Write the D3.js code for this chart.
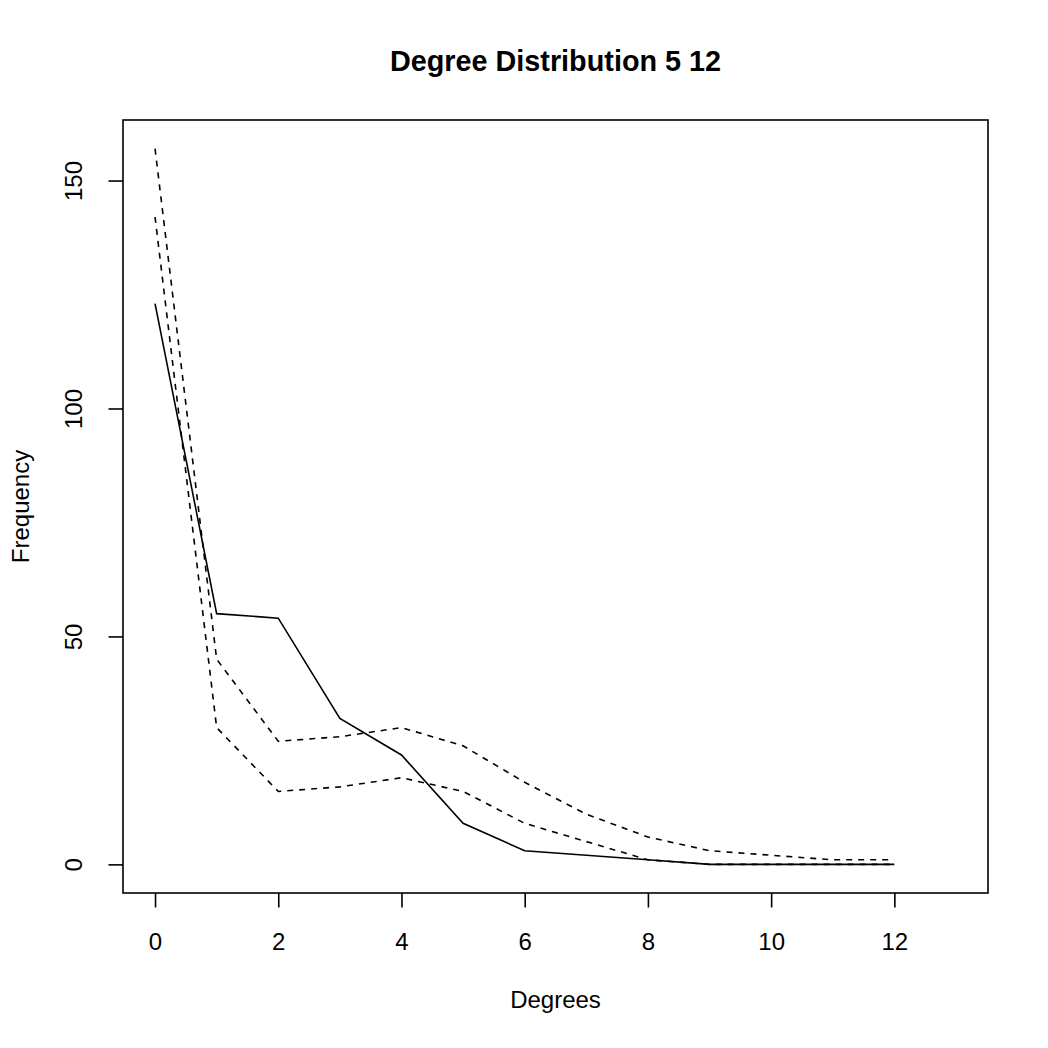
<!DOCTYPE html>
<html>
<head>
<meta charset="utf-8">
<script src="https://cdn.jsdelivr.net/npm/d3@7"></script>
<style>
  body { margin: 0; background: #fff; }
  svg text { font-family: "Liberation Sans", Arial, Helvetica, sans-serif; fill: #000; }
</style>
</head>
<body>
<div id="chart"></div>
<script>
'use strict';

// degree values along the x axis
const degrees = [0, 1, 2, 3, 4, 5, 6, 7, 8, 9, 10, 11, 12]

// observed frequencies (solid line)
const observed = [123, 55, 54, 32, 24, 9, 3, 2, 1, 0, 0, 0, 0]

// lower and upper envelopes (dashed lines)
const lowerBand = [142, 30, 16, 17, 19, 16, 9, 5, 1, 0, 0, 0, 0]
const upperBand = [157, 45, 27, 28, 30, 26, 18, 11, 6, 3, 2, 1, 1]

const xTicks = [0, 2, 4, 6, 8, 10, 12]
const yTicks = [0, 50, 100, 150]

const title  = 'Degree Distribution 5 12'
const xLabel = 'Degrees'
const yLabel = 'Frequency'

const W = 1048, H = 1048
const box = { left: 123, right: 988, top: 120, bottom: 893 }

// R style 4% padding on each side of the data range
const xDomain = [0, 13], yDomain = [0, 157]
const pad = (d) => { const e = (d[1] - d[0]) * 0.04; return [d[0] - e, d[1] + e] }

const x = d3.scaleLinear().domain(pad(xDomain)).range([box.left, box.right])
const y = d3.scaleLinear().domain(pad(yDomain)).range([box.bottom, box.top])

const svg = d3.select('#chart')
  .append('svg')
  .attr('width', W)
  .attr('height', H)

svg.append('rect')
  .attr('width', W)
  .attr('height', H)
  .attr('fill', '#fff')

const line = d3.line()
  .x((d) => x(d[0]))
  .y((d) => y(d[1]))

const series = [
  { values: upperBand, dash: '6,6' },
  { values: lowerBand, dash: '6,6' },
  { values: observed,  dash: null }
]

series.forEach((s) => {
  svg.append('path')
    .datum(degrees.map((d, i) => [d, s.values[i]]))
    .attr('d', line)
    .attr('fill', 'none')
    .attr('stroke', '#000')
    .attr('stroke-width', 1.6)
    .attr('stroke-dasharray', s.dash)
})

// plot frame
svg.append('rect')
  .attr('x', box.left)
  .attr('y', box.top)
  .attr('width', box.right - box.left)
  .attr('height', box.bottom - box.top)
  .attr('fill', 'none')
  .attr('stroke', '#000')
  .attr('stroke-width', 1.6)

const xAxis = svg.append('g')
  .attr('transform', `translate(0,${box.bottom})`)
  .call(d3.axisBottom(x).tickValues(xTicks).tickSize(14.5).tickSizeOuter(0))

xAxis.select('.domain').remove()
xAxis.selectAll('.tick line').attr('stroke', '#000').attr('stroke-width', 1.6)
xAxis.selectAll('.tick text')
  .attr('y', 57)
  .attr('dy', 0)
  .style('font-size', '24px')

const yAxis = svg.append('g')
  .attr('transform', `translate(${box.left},0)`)
  .call(d3.axisLeft(y).tickValues(yTicks).tickSize(14.5).tickSizeOuter(0))

yAxis.select('.domain').remove()
yAxis.selectAll('.tick line').attr('stroke', '#000').attr('stroke-width', 1.6)
yAxis.selectAll('.tick text')
  .attr('x', 0)
  .attr('dy', 0)
  .attr('text-anchor', 'middle')
  .attr('transform', 'translate(-41,0) rotate(-90)')
  .style('font-size', '24px')

svg.append('text')
  .attr('x', (box.left + box.right) / 2)
  .attr('y', 71)
  .attr('text-anchor', 'middle')
  .style('font-size', '28.8px')
  .style('font-weight', 'bold')
  .text(title)

svg.append('text')
  .attr('x', (box.left + box.right) / 2)
  .attr('y', 1008)
  .attr('text-anchor', 'middle')
  .style('font-size', '24px')
  .text(xLabel)

svg.append('text')
  .attr('transform', `translate(29,${(box.top + box.bottom) / 2}) rotate(-90)`)
  .attr('text-anchor', 'middle')
  .style('font-size', '24px')
  .text(yLabel)
</script>
</body>
</html>
